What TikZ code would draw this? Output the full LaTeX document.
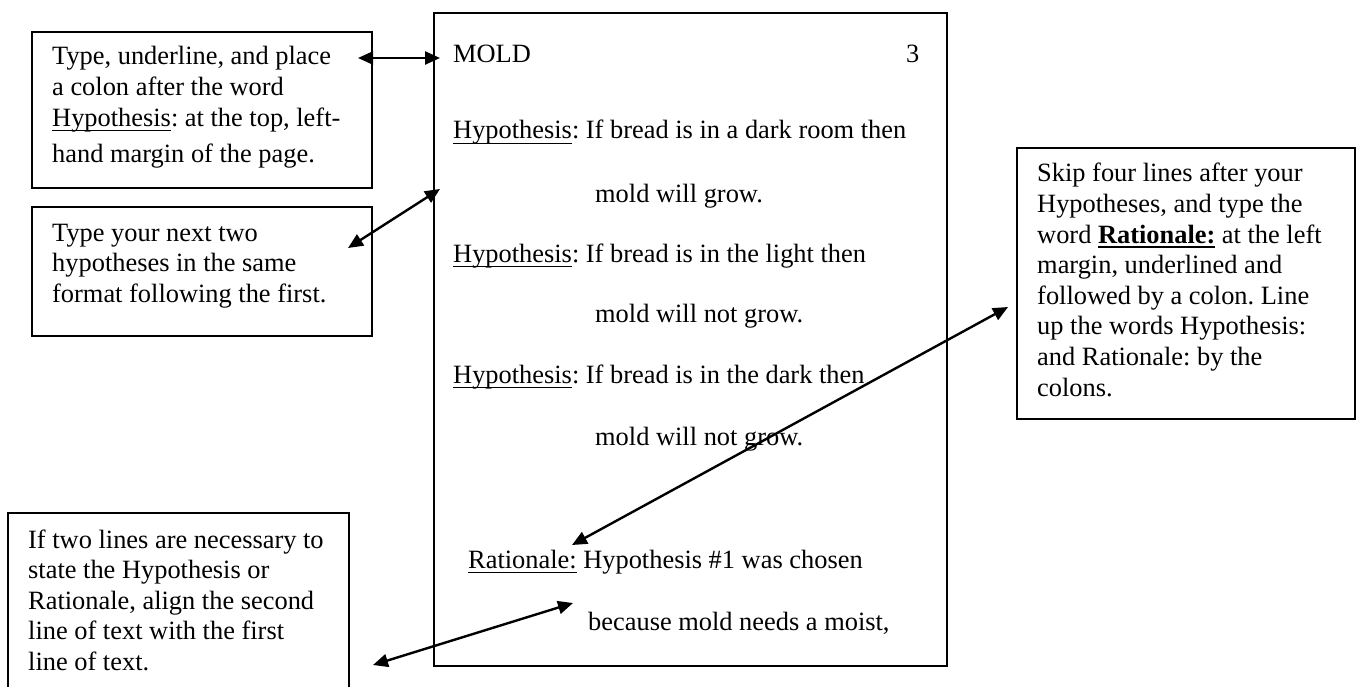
\documentclass[tikz,border=0pt]{standalone}
\usepackage{fontspec}
\setmainfont{Liberation Serif}
\usetikzlibrary{arrows.meta}
% word with a thin rule just under the baseline
\newcommand\ulword[1]{\setbox0\hbox{#1}\rlap{\rule[-0.19em]{\wd0}{0.055em}}\box0\relax}
\newcommand\ulbold[1]{\setbox0\hbox{\bfseries #1}\rlap{\rule[-0.19em]{\wd0}{0.08em}}\box0\relax}
\frenchspacing
\begin{document}
\begin{tikzpicture}[x=1pt, y=-1pt,
  frame/.style={draw, line width=1.8pt, inner sep=0pt, anchor=north west},
  txt/.style={anchor=base west, inner sep=0pt, font=\fontsize{26.4}{30.6}\selectfont},
  link/.style={>={Triangle[length=15pt,width=13pt]}, <->, line width=2.4pt}]
\useasboundingbox (0,0) rectangle (1356,687);

% the sample page
\node[frame, minimum width=513pt, minimum height=653pt] (page) at (433,12) {};
\node[txt] (mold) at (453,63) {MOLD};
\node[txt] (pnum) at (906,63) {3};
\node[txt] (h1) at (453,139) {\ulword{Hypothesis}: If bread is in a dark room then};
\node[txt] (h1b) at (595,202) {mold will grow.};
\node[txt] (h2) at (453,262) {\ulword{Hypothesis}: If bread is in the light then};
\node[txt] (h2b) at (595,322) {mold will not grow.};
\node[txt] (h3) at (453,383) {\ulword{Hypothesis}: If bread is in the dark then};
\node[txt] (h3b) at (595,445) {mold will not grow.};
\node[txt] (rat) at (468,568) {\ulword{Rationale:} Hypothesis \#1 was chosen};
\node[txt] (ratb) at (588,630) {because mold needs a moist,};

% callout boxes
\node[frame, minimum width=340pt, minimum height=156pt] (boxa) at (31,31) {};
\node[txt] (texta) at (52,65) {\parbox[t]{315pt}{Type, underline, and place\\
  a colon after the word\\
  \ulword{Hypothesis}: at the top, left-\\[6pt]
  hand margin of the page.}};

\node[frame, minimum width=340pt, minimum height=129pt] (boxb) at (31,206) {};
\node[txt] (textb) at (52,241) {\parbox[t]{315pt}{Type your next two\\
  hypotheses in the same\\
  format following the first.}};

\node[frame, minimum width=338pt, minimum height=271pt] (boxc) at (1016,147) {};
\node[txt] (textc) at (1037,182) {\parbox[t]{305pt}{Skip four lines after your\\
  Hypotheses, and type the\\
  word \ulbold{Rationale:} at the left\\
  margin, underlined and\\
  followed by a colon. Line\\
  up the words Hypothesis:\\
  and Rationale: by the\\
  colons.}};

\node[frame, minimum width=341pt, minimum height=200pt] (boxd) at (7,512) {};
\node[txt] (textd) at (28,548) {\parbox[t]{315pt}{If two lines are necessary to\\
  state the Hypothesis or\\
  Rationale, align the second\\
  line of text with the first\\
  line of text.}};

% arrow ends
\coordinate (a1l) at (358,58);  \coordinate (a1r) at (440,58);
\coordinate (a2l) at (348,248); \coordinate (a2r) at (440,189);
\coordinate (a3l) at (572,545); \coordinate (a3r) at (1008,307);
\coordinate (a4l) at (373,665); \coordinate (a4r) at (573,603);

\draw[link] (a1l) -- (a1r);
\draw[link] (a2l) -- (a2r);
\draw[link] (a3l) -- (a3r);
\draw[link] (a4l) -- (a4r);
\end{tikzpicture}
\end{document}
